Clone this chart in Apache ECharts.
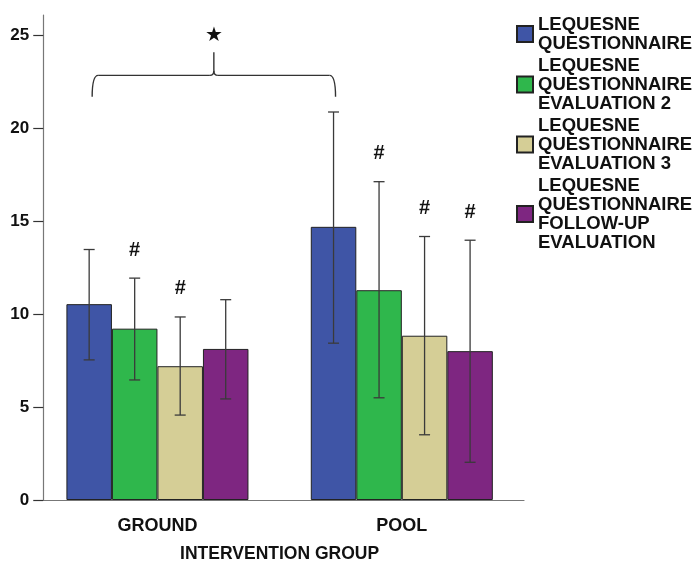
<!DOCTYPE html>
<html>
<head>
<meta charset="utf-8">
<script src="https://cdn.jsdelivr.net/npm/echarts@6/dist/echarts.min.js"></script>
<style>
html,body{margin:0;padding:0;background:#fff;}
#chart{width:696px;height:563px;}
</style>
</head>
<body>
<div id="chart"></div>
<script>
// ---- data ----
var categories = ['GROUND', 'POOL'];
var seriesNames = [
  'LEQUESNE\nQUESTIONNAIRE',
  'LEQUESNE\nQUESTIONNAIRE\nEVALUATION 2',
  'LEQUESNE\nQUESTIONNAIRE\nEVALUATION 3',
  'LEQUESNE\nQUESTIONNAIRE\nFOLLOW-UP\nEVALUATION'
];
var meanEval1 = [10.54, 14.70];
var meanEval2 = [9.22, 11.29];
var meanEval3 = [7.20, 8.84];
var meanFollow = [8.13, 8.01];
var lowEval1 = [7.54, 8.44];
var highEval1 = [13.48, 20.88];
var lowEval2 = [6.46, 5.50];
var highEval2 = [11.94, 17.13];
var lowEval3 = [4.57, 3.51];
var highEval3 = [9.85, 14.18];
var lowFollow = [5.44, 2.03];
var highFollow = [10.78, 13.98];
// '#' significance marks (1 = shown above that bar)
var hashEval1 = [0, 0];
var hashEval2 = [1, 1];
var hashEval3 = [1, 1];
var hashFollow = [0, 1];
var yTicks = [0, 5, 10, 15, 20, 25];
var axisTitle = 'INTERVENTION GROUP';

var colors = ['#3f55a6', '#2fb74c', '#d5ce96', '#7e2681'];
var means = [meanEval1, meanEval2, meanEval3, meanFollow];
var lows = [lowEval1, lowEval2, lowEval3, lowFollow];
var highs = [highEval1, highEval2, highEval3, highFollow];
var hashes = [hashEval1, hashEval2, hashEval3, hashFollow];

var GAP = 0.255; // barCategoryGap fraction
var FONT = '"Liberation Sans", Arial, sans-serif';

var chart = echarts.init(document.getElementById('chart'), null, {renderer: 'canvas'});

var series = [];
for (var i = 0; i < 4; i++) {
  series.push({
    type: 'bar',
    name: seriesNames[i],
    data: means[i],
    barGap: '0%',
    barCategoryGap: (GAP * 100) + '%',
    itemStyle: {color: colors[i], borderColor: '#222', borderWidth: 1},
    z: 2
  });
}
for (var j = 0; j < 4; j++) {
  (function (idx) {
    var d = [];
    for (var c = 0; c < categories.length; c++) d.push([c, lows[idx][c], highs[idx][c], hashes[idx][c]]);
    series.push({
      type: 'custom',
      name: 'err' + idx,
      data: d,
      z: 5,
      silent: true,
      renderItem: function (params, api) {
        var c = api.value(0);
        var band = api.size([1, 0])[0];
        var bw = band * (1 - GAP) / 4;
        var cx = api.coord([c, 0])[0] + (idx - 1.5) * bw;
        var yl = api.coord([c, api.value(1)])[1];
        var yh = api.coord([c, api.value(2)])[1];
        var cap = 5.5;
        var st = {stroke: '#3a3a3a', lineWidth: 1.3};
        var kids = [
          {type: 'line', shape: {x1: cx, y1: yl, x2: cx, y2: yh}, style: st},
          {type: 'line', shape: {x1: cx - cap, y1: yh, x2: cx + cap, y2: yh}, style: st},
          {type: 'line', shape: {x1: cx - cap, y1: yl, x2: cx + cap, y2: yl}, style: st}
        ];
        if (api.value(3)) {
          kids.push({type: 'text', style: {text: '#', x: cx, y: yh - 28, align: 'center', verticalAlign: 'middle',
            font: 'bold 20px ' + FONT, fill: '#111'}});
        }
        return {type: 'group', children: kids};
      }
    });
  })(j);
}

chart.setOption({
  animation: false,
  backgroundColor: '#fff',
  color: colors,
  grid: {left: 35.25, right: 172, top: 15, bottom: 63, containLabel: false, outerBoundsMode: 'none'},
  legend: {
    orient: 'vertical', left: 516, top: 15, padding: 0,
    itemWidth: 16, itemHeight: 16, itemGap: 3,
    icon: 'rect',
    data: seriesNames,
    textStyle: {fontFamily: FONT, fontWeight: 'bold', fontSize: 18.5, lineHeight: 19, color: '#111'}
  },
  xAxis: {
    type: 'category',
    data: categories,
    axisLine: {lineStyle: {color: '#777', width: 1.2}},
    axisTick: {alignWithLabel: true, length: 11, lineStyle: {color: '#333', width: 1.2}},
    axisLabel: {margin: 17, fontFamily: FONT, fontWeight: 'bold', fontSize: 18, color: '#111'},
    name: axisTitle,
    nameLocation: 'middle',
    nameGap: 45,
    nameTextStyle: {fontFamily: FONT, fontWeight: 'bold', fontSize: 17.5, color: '#111'}
  },
  yAxis: {
    type: 'value',
    min: 0,
    max: 26.1,
    offset: -8,
    splitLine: {show: false},
    axisLine: {show: true, lineStyle: {color: '#777', width: 1.2}},
    axisTick: {show: true, length: 10, customValues: yTicks, lineStyle: {color: '#333', width: 1.2}},
    axisLabel: {margin: 14, customValues: yTicks, fontFamily: FONT, fontWeight: 'bold', fontSize: 17, color: '#111'}
  },
  series: series
});

// ---- significance brace + star between the two blue bars ----
var braceBottom = 21.7, braceLevel = 22.85, braceTip = 24.1, starLevel = 25;
function px(c, v) { return chart.convertToPixel({xAxisIndex: 0, yAxisIndex: 0}, [c, v]); }
var band = px(1, 0)[0] - px(0, 0)[0];
var bw = band * (1 - GAP) / 4;
var x1 = px(0, 0)[0] - 1.5 * bw + 3;
var x2 = px(1, 0)[0] - 1.5 * bw + 2;
var xm = (x1 + x2) / 2;
var yb = px(0, braceBottom)[1], yh = px(0, braceLevel)[1], yt = px(0, braceTip)[1], ys = px(0, starLevel)[1];
var r = 6;
var bst = {stroke: '#333', lineWidth: 1.4, fill: 'none'};
function curve(ax, ay, cx, cy, bx, by) {
  return {type: 'bezierCurve', shape: {x1: ax, y1: ay, x2: bx, y2: by, cpx1: cx, cpy1: cy}, style: bst, z: 10};
}
function seg(ax, ay, bx, by) {
  return {type: 'line', shape: {x1: ax, y1: ay, x2: bx, y2: by}, style: bst, z: 10};
}
chart.setOption({
  graphic: [
    curve(x1, yb, x1, yh, x1 + r, yh),
    seg(x1 + r, yh, xm - 4, yh),
    curve(xm - 4, yh, xm, yh, xm, yh - 5),
    seg(xm, yh - 5, xm, yt),
    curve(xm, yh - 5, xm, yh, xm + 4, yh),
    seg(xm + 4, yh, x2 - r, yh),
    curve(x2 - r, yh, x2, yh, x2, yb),
    {type: 'text', x: xm, y: ys, style: {text: '★', font: '20px "DejaVu Sans", sans-serif', fill: '#111', align: 'center', verticalAlign: 'middle'}, z: 10}
  ]
});
</script>
</body>
</html>
